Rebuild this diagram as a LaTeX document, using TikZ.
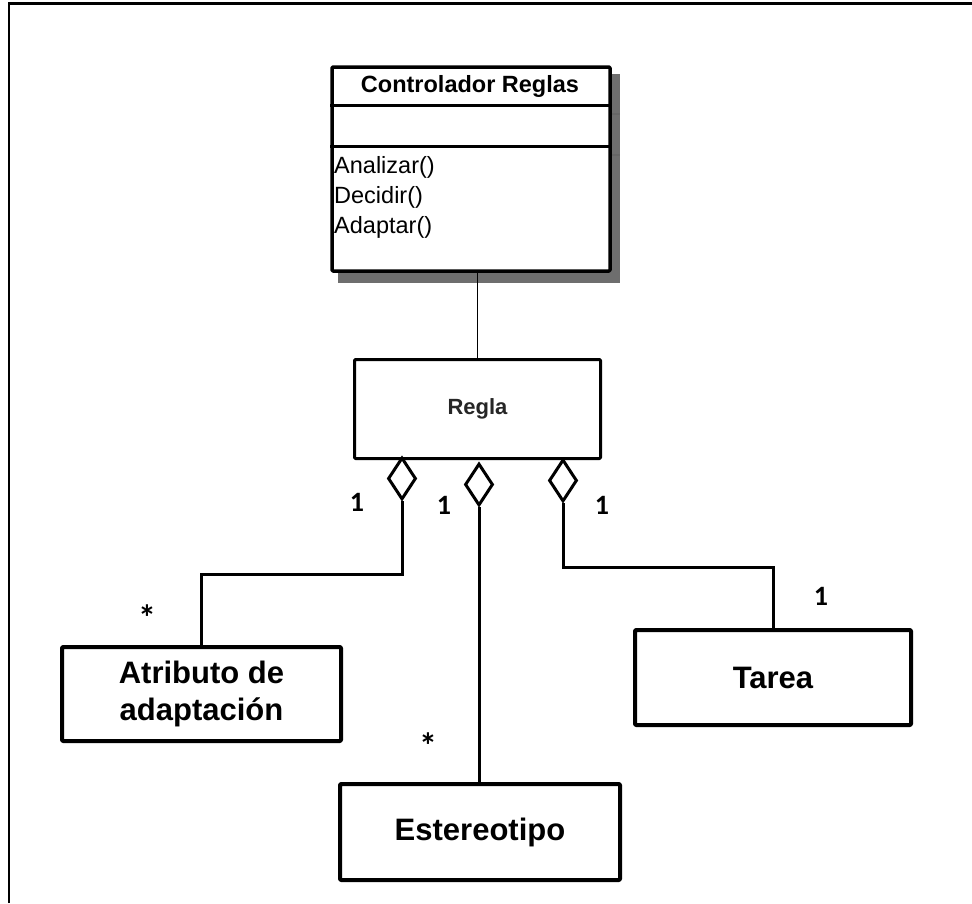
\documentclass[tikz,border=0pt]{standalone}
\usepackage{fontspec}
\setmainfont{Liberation Sans}
\newfontfamily\multfont{Carlito}
\usetikzlibrary{shapes.geometric}
\definecolor{shadowgray}{HTML}{6E6E6E}
\begin{document}
\begin{tikzpicture}[x=1pt,y=-1pt,
  classbox/.style={draw, line width=#1, fill=white, inner sep=0pt, align=center,
    line join=round, rounded corners=1pt},
  aggr/.style={diamond, draw, line width=3pt, fill=white, inner sep=0pt,
    minimum width=28pt, minimum height=42pt},
  assoc/.style={line width=3pt, line join=miter},
  mult/.style={inner sep=0pt, font=\multfont\bfseries\fontsize{28}{28}\selectfont},
  many/.style={inner sep=0pt, font=\multfont\bfseries\fontsize{36}{36}\selectfont},
  bigname/.style={font=\bfseries\fontsize{31}{37}\selectfont},
  method/.style={anchor=west, inner sep=0pt, font=\fontsize{23.5}{28}\selectfont}
]
\useasboundingbox (0,0) rectangle (972,903);

% outer frame (top and left edges)
\draw[line width=2.5pt] (9,903) -- (9,3.5) -- (972,3.5);

% Controlador Reglas: shadow, box, compartments
\fill[shadowgray] (338,74) rectangle (620,283);
\draw[black!60, line width=1.2pt] (612,114) -- (620,114) (612,155) -- (620,155);
\node[classbox=3.5pt, minimum width=278pt, minimum height=204pt] (ctrl) at (471,169) {};
\draw[line width=3pt] (ctrl.west |- 0,105) -- (ctrl.east |- 0,105);
\draw[line width=3pt] (ctrl.west |- 0,146) -- (ctrl.east |- 0,146);
\node[inner sep=0pt, font=\bfseries\fontsize{23.5}{26}\selectfont] (ctrlname) at (470,86) {Controlador Reglas};
\node[method] (m1) at (334,167) {Analizar()};
\node[method] (m2) at (334,197) {Decidir()};
\node[method] (m3) at (334,227) {Adaptar()};

% Regla
\node[classbox=3pt, minimum width=246pt, minimum height=99pt,
  font=\bfseries\fontsize{22}{24}\selectfont, text=black!85] (regla) at (477.5,409) {Regla};
\draw[line width=1.5pt] (regla.north |- ctrl.south) -- (regla.north);

% related classes
\node[classbox=4pt, minimum width=279pt, minimum height=94pt, bigname] (atrib) at (201.5,694) {Atributo de\\adaptación};
\node[classbox=4pt, minimum width=276pt, minimum height=95pt, bigname] (tarea) at (773,677.5) {Tarea};
\node[classbox=4pt, minimum width=280pt, minimum height=96pt, bigname] (estereo) at (480,832) {Estereotipo};

% aggregation diamonds on Regla
\node[aggr] (d1) at (402,478.5) {};
\node[aggr] (d2) at (479,484.5) {};
\node[aggr] (d3) at (563,480.5) {};

% aggregation connectors
\coordinate (k1) at (0,574);
\coordinate (k3) at (0,567);
\draw[assoc] (d1.south) -- (d1.south |- k1) -| (atrib.north);
\draw[assoc] (d2.south) -- (d2.south |- estereo.north);
\draw[assoc] (d3.south) -- (d3.south |- k3) -| (tarea.north);

% multiplicities
\node[mult] (n1) at (357,502) {1};
\node[mult] (n2) at (444,505) {1};
\node[mult] (n3) at (602,505) {1};
\node[mult] (n4) at (821,596) {1};
\node[many] (s1) at (147,618) {*};
\node[many] (s2) at (428,746) {*};
\end{tikzpicture}
\end{document}
